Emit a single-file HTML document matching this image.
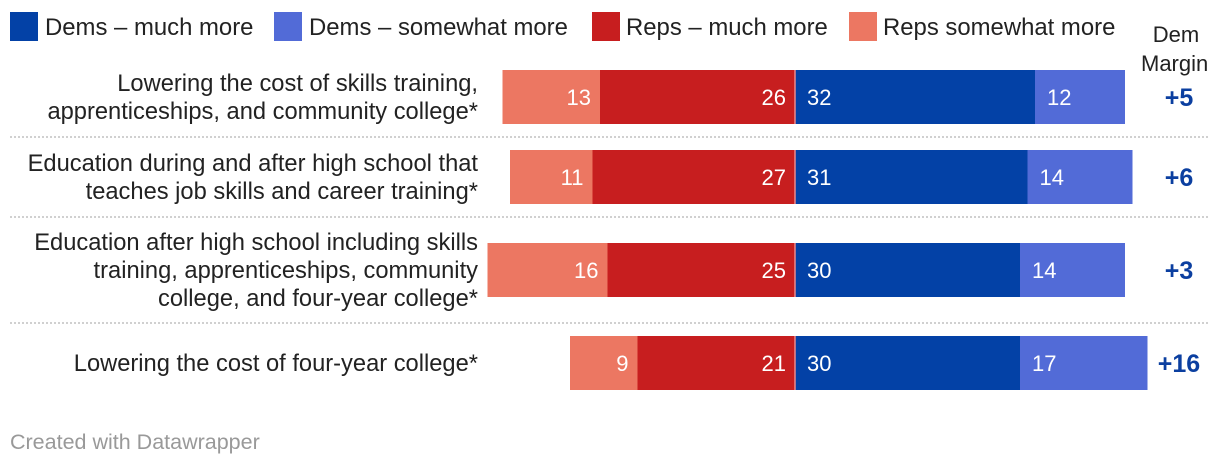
<!DOCTYPE html>
<html><head><meta charset="utf-8"><style>
body{margin:0;background:#fff;width:1220px;height:466px;overflow:hidden;font-family:"Liberation Sans",sans-serif}
</style></head><body>
<svg id="chart" width="1220" height="466" xmlns="http://www.w3.org/2000/svg" font-family="Liberation Sans, sans-serif">
<g font-size="23.9" fill="#222">
<rect x="10" y="12" width="28" height="29" fill="#0341a6"/>
<text x="45" y="35">Dems – much more</text>
<rect x="274" y="12" width="28" height="29" fill="#526bd7"/>
<text x="309" y="35">Dems – somewhat more</text>
<rect x="592" y="12" width="28" height="29" fill="#c71e1f"/>
<text x="626" y="35">Reps – much more</text>
<rect x="849" y="12" width="28" height="29" fill="#ec7762"/>
<text x="883" y="35">Reps somewhat more</text>
</g>
<text x="1176" y="42" font-size="22" fill="#222" text-anchor="middle">Dem</text>
<text x="1141" y="71" font-size="22" fill="#222">Margin</text>
<g id="rows"></g>
<text x="10" y="449" font-size="21.5" fill="#999">Created with Datawrapper</text>
</svg>
<script>
const labels=[["Lowering the cost of skills training,","apprenticeships, and community college*"],["Education during and after high school that","teaches job skills and career training*"],["Education after high school including skills","training, apprenticeships, community","college, and four-year college*"],["Lowering the cost of four-year college*"]];
const repsSomewhat=[13,11,16,9];
const repsMuch=[26,27,25,21];
const demsMuch=[32,31,30,30];
const demsSomewhat=[12,14,14,17];
const margins=["+5","+6","+3","+16"];
const rowTop=[70,150,243,336];
const sepY=[137,217,323];
const cx=795, k=7.5, bh=54;
const x=v=>cx+v*k;
const g=document.getElementById('rows');
const NS="http://www.w3.org/2000/svg";
function mk(t,a){const e=document.createElementNS(NS,t);for(const n in a)e.setAttribute(n,a[n]);g.appendChild(e);return e;}
sepY.forEach(y=>{const l=mk('line',{x1:10,x2:1210,y1:y,y2:y,stroke:'#d0d0d0','stroke-width':2,'stroke-dasharray':'2 2'});

});
labels.forEach((lb,i)=>{
 const t=rowTop[i], mid=t+bh/2;
 const n=lb.length, lh=28, y0=mid-(n-1)*lh/2+8;
 lb.forEach((s,j)=>{const e=mk('text',{x:478,y:y0+j*lh,'font-size':23.7,fill:'#222','text-anchor':'end'});e.textContent=s;
 
 });
 const segs=[
  {a:-(repsMuch[i]+repsSomewhat[i]),b:-repsMuch[i],c:'#ec7762',v:repsSomewhat[i],end:true,nm:'bar-reps-somewhat'},
  {a:-repsMuch[i],b:0,c:'#c71e1f',v:repsMuch[i],end:true,nm:'bar-reps-much'},
  {a:0,b:demsMuch[i],c:'#0341a6',v:demsMuch[i],end:false,nm:'bar-dems-much'},
  {a:demsMuch[i],b:demsMuch[i]+demsSomewhat[i],c:'#526bd7',v:demsSomewhat[i],end:false,nm:'bar-dems-somewhat'}];
 segs.forEach(s=>{
  const r=mk('rect',{x:x(s.a),y:t,width:x(s.b)-x(s.a),height:bh,fill:s.c});
  
  
  const tx=mk('text',{x:s.end?x(s.b)-9:x(s.a)+12,y:mid+8,'font-size':22,fill:'#fff','text-anchor':s.end?'end':'start'});
  tx.textContent=s.v;
  
  
 });
 const c=mk('line',{x1:cx,x2:cx,y1:t,y2:t+bh,stroke:'#e88','stroke-width':1.5});
 
 
 const m=mk('text',{x:1179,y:mid+9,'font-size':25,'font-weight':'bold',fill:'#0b3fa0','text-anchor':'middle'});
 m.textContent=margins[i];
 
 
});
</script>
</body></html>
